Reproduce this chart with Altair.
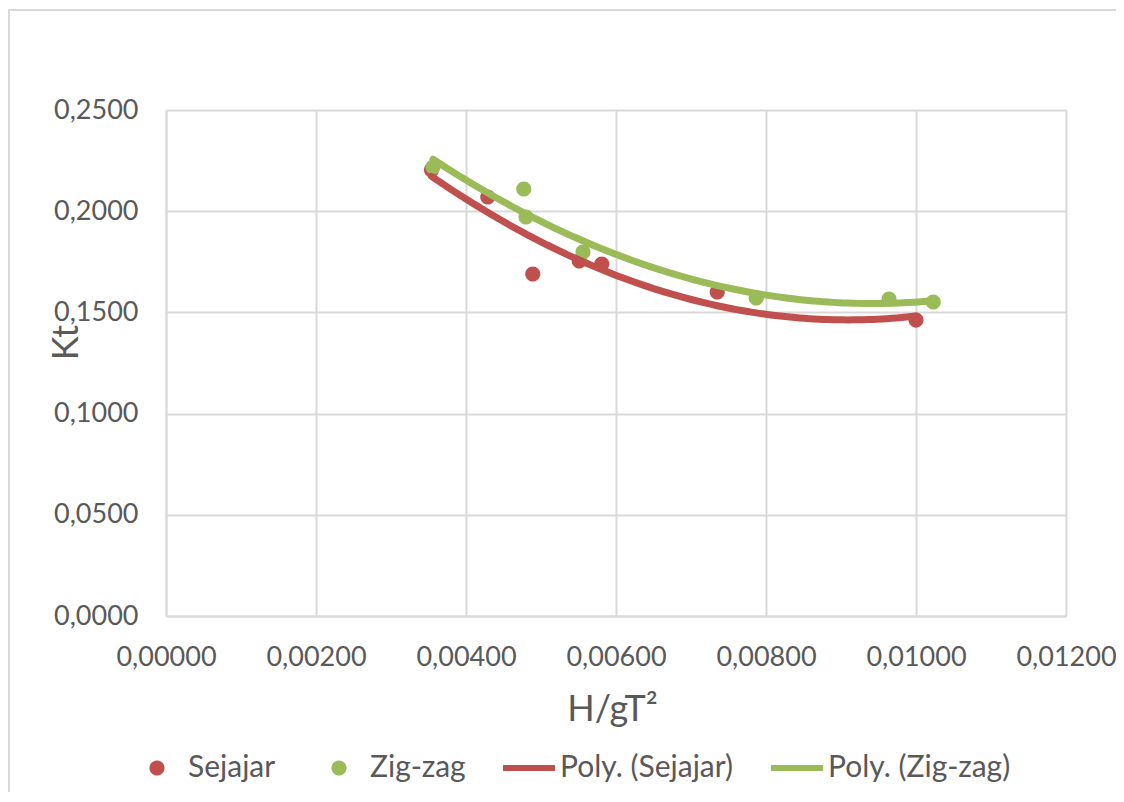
import altair as alt
import pandas as pd

# ---- data ----
sejajar_x = [0.00354, 0.00429, 0.00489, 0.00551, 0.00581, 0.00735, 0.01000]
sejajar_y = [0.2204, 0.2070, 0.1690, 0.1754, 0.1739, 0.1601, 0.1462]
zigzag_x = [0.00356, 0.00477, 0.00480, 0.00556, 0.00787, 0.00964, 0.01023]
zigzag_y = [0.2218, 0.2110, 0.1971, 0.1798, 0.1571, 0.1566, 0.1551]

series_names = ["Sejajar", "Zig-zag"]
legend_names = ["Sejajar", "Zig-zag", "Poly. (Sejajar)", "Poly. (Zig-zag)"]
legend_colors = ["#C0504D", "#9BBB59", "#C0504D", "#9BBB59"]
x_ticks = [0.0, 0.002, 0.004, 0.006, 0.008, 0.010, 0.012]
y_ticks = [0.0, 0.05, 0.10, 0.15, 0.20, 0.25]

rows = []
for xs, ys, name in [(sejajar_x, sejajar_y, "Sejajar"), (zigzag_x, zigzag_y, "Zig-zag")]:
    for xv, yv in zip(xs, ys):
        rows.append({"x": xv, "y": yv, "series": name, "legend": name})
df = pd.DataFrame(rows)

FONT = "Lato"
GREY = "#595959"
GRID = "#d9d9d9"

SYM_SIZE = 2704  # symbol box of 52 px
CIRCLE = "M-0.29,0A0.29,0.29 0 1,0 0.29,0A0.29,0.29 0 1,0 -0.29,0Z"
BAR = "M-1,-0.12H1V0.12H-1Z"

color_scale = alt.Scale(domain=legend_names, range=legend_colors)
shape_scale = alt.Scale(domain=legend_names, range=[CIRCLE, CIRCLE, BAR, BAR])

legend = alt.Legend(
    title=None,
    orient="none",
    legendX=-35,
    legendY=632,
    direction="horizontal",
    columns=4,
    columnPadding=37,
    symbolSize=SYM_SIZE,
    symbolOpacity=1,
    symbolStrokeWidth=0,
    labelFont=FONT,
    labelFontSize=30,
    labelColor=GREY,
    labelOffset=5,
    labelLimit=400,
)

x_enc = alt.X(
    "x:Q",
    scale=alt.Scale(domain=[0, 0.012], nice=False),
    axis=alt.Axis(
        values=x_ticks,
        labelExpr="replace(format(datum.value, '.5f'), '.', ',')",
        labelOverlap=False,
        labelBound=False,
        labelFlush=False,
        title="H/gT²",
        titleX=446,
        titleY=104,
        titleBaseline="alphabetic",
        titleAlign="center",
    ),
)
y_enc = alt.Y(
    "y:Q",
    scale=alt.Scale(domain=[0, 0.25], nice=False),
    axis=alt.Axis(
        values=y_ticks,
        labelExpr="replace(format(datum.value, '.4f'), '.', ',')",
        labelOverlap=False,
        labelFlush=False,
        title="Kt",
        titleX=-89,
        titleY=232,
        titleAngle=-90,
        titleBaseline="alphabetic",
        titleAlign="center",
    ),
)

points = alt.Chart(df).mark_point(filled=True, size=SYM_SIZE, opacity=1, strokeWidth=0).encode(
    x=x_enc,
    y=y_enc,
    color=alt.Color("legend:N", scale=color_scale, legend=legend),
    shape=alt.Shape("legend:N", scale=shape_scale, legend=legend),
)

lines = (
    alt.Chart(df)
    .transform_regression("x", "y", method="poly", order=2, groupby=["series"])
    .transform_calculate(legend="'Poly. (' + datum.series + ')'")
    .mark_line(strokeWidth=7, strokeCap="round")
    .encode(
        x="x:Q",
        y="y:Q",
        color=alt.Color("legend:N", scale=color_scale, legend=legend),
        order=alt.Order("x:Q"),
    )
)

border = alt.Chart(pd.DataFrame({"a": [0]})).mark_rect(
    filled=False, stroke=GRID, strokeWidth=2
).encode(
    x=alt.value(-157), x2=alt.value(975), y=alt.value(-100), y2=alt.value(700)
)

chart = (
    alt.layer(points, lines, border)
    .properties(
        width=900,
        height=506,
        background="white",
        autosize=alt.AutoSizeParams(type="none"),
        padding={"left": 158, "top": 102, "right": 50, "bottom": 176},
    )
    .configure_view(stroke=None)
    .configure_axis(
        grid=True,
        gridColor=GRID,
        gridWidth=2,
        domainColor=GRID,
        domainWidth=2,
        ticks=False,
        labelFont=FONT,
        labelFontSize=27,
        labelColor=GREY,
        labelPadding=28,
        titleFont=FONT,
        titleFontSize=36,
        titleFontWeight="normal",
        titleColor=GREY,
    )
)

chart.save("out.html", embed_options={"renderer": "svg", "actions": False})
